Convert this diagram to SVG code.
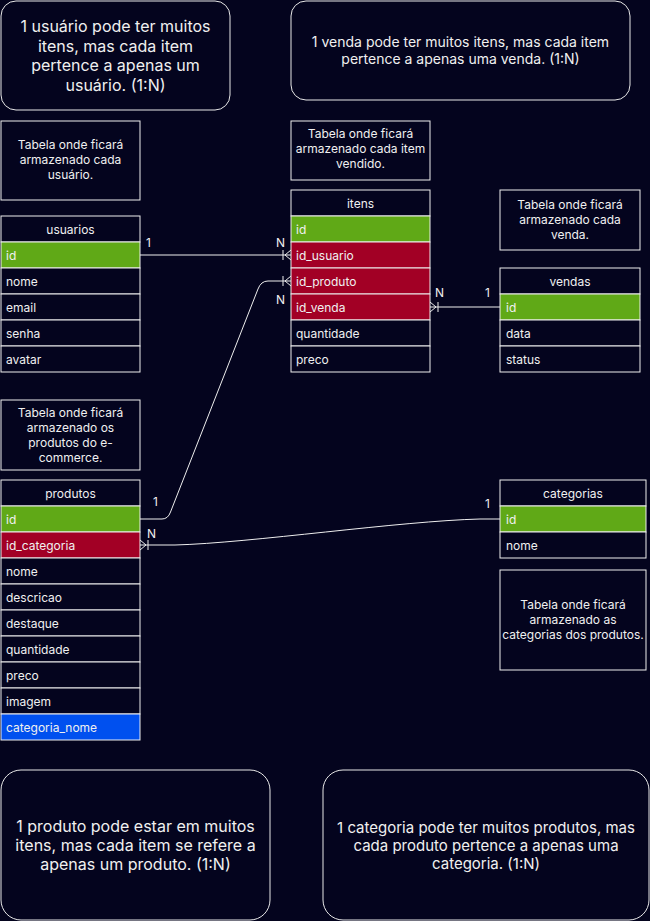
<svg xmlns="http://www.w3.org/2000/svg" width="650" height="921" viewBox="0 0 650 921">
<style>
text{font-family:Inter,"Noto Sans","Liberation Sans",sans-serif;fill:#f0f0f0}
.box{fill:#04041e;stroke:#eeeeee;stroke-width:1}
.note{fill:#04041e;stroke:#e8e8e8;stroke-width:1}
.g{fill:#60a917;stroke:#eeeeee}
.r{fill:#a20025;stroke:#eeeeee}
.b{fill:#0050ef;stroke:#eeeeee}
.t12{font-size:12px}
.c{text-anchor:middle}
.con{fill:none;stroke:#eeeeee;stroke-width:1}
.lbl{font-size:12px}
</style>
<rect width="650" height="921" fill="#04041e"/>

<g id="note-usuarios">
<rect class="note" x="1" y="1" width="229" height="109" rx="15"/>
<text class="c" x="115.5" y="32" font-size="16">1 usuário pode ter muitos</text>
<text class="c" x="115.5" y="52" font-size="16">itens, mas cada item</text>
<text class="c" x="115.5" y="71" font-size="16">pertence a apenas um</text>
<text class="c" x="115.5" y="91" font-size="16">usuário. (1:N)</text>
</g>

<g id="note-vendas">
<rect class="note" x="291" y="1" width="339" height="99" rx="15"/>
<text class="c" x="460.5" y="47" font-size="14">1 venda pode ter muitos itens, mas cada item</text>
<text class="c" x="460.5" y="64" font-size="14">pertence a apenas uma venda. (1:N)</text>
</g>

<g id="desc-usuarios">
<rect class="box" x="1" y="121" width="139" height="79"/>
<text class="c t12" x="70.5" y="149">Tabela onde ficará</text>
<text class="c t12" x="70.5" y="164">armazenado cada</text>
<text class="c t12" x="70.5" y="179">usuário.</text>
</g>

<g id="usuarios">
<rect class="box" x="1" y="216" width="139" height="26"/>
<text class="c t12" x="70.5" y="234">usuarios</text>
<rect class="g" x="1" y="242" width="139" height="26"/>
<text class="t12" x="6" y="260">id</text>
<rect class="box" x="1" y="268" width="139" height="26"/>
<text class="t12" x="6" y="286">nome</text>
<rect class="box" x="1" y="294" width="139" height="26"/>
<text class="t12" x="6" y="312">email</text>
<rect class="box" x="1" y="320" width="139" height="26"/>
<text class="t12" x="6" y="338">senha</text>
<rect class="box" x="1" y="346" width="139" height="26"/>
<text class="t12" x="6" y="364">avatar</text>
</g>

<g id="desc-itens">
<rect class="box" x="291" y="121" width="139" height="59"/>
<text class="c t12" x="360.5" y="138">Tabela onde ficará</text>
<text class="c t12" x="360.5" y="153">armazenado cada item</text>
<text class="c t12" x="360.5" y="168">vendido.</text>
</g>

<g id="itens">
<rect class="box" x="291" y="190" width="139" height="26"/>
<text class="c t12" x="360.5" y="208">itens</text>
<rect class="g" x="291" y="216" width="139" height="26"/>
<text class="t12" x="296" y="234">id</text>
<rect class="r" x="291" y="242" width="139" height="26"/>
<text class="t12" x="296" y="260">id_usuario</text>
<rect class="r" x="291" y="268" width="139" height="26"/>
<text class="t12" x="296" y="286">id_produto</text>
<rect class="r" x="291" y="294" width="139" height="26"/>
<text class="t12" x="296" y="312">id_venda</text>
<rect class="box" x="291" y="320" width="139" height="26"/>
<text class="t12" x="296" y="338">quantidade</text>
<rect class="box" x="291" y="346" width="139" height="26"/>
<text class="t12" x="296" y="364">preco</text>
</g>

<g id="desc-vendas">
<rect class="box" x="500" y="190" width="140" height="60"/>
<text class="c t12" x="570" y="209">Tabela onde ficará</text>
<text class="c t12" x="570" y="224">armazenado cada</text>
<text class="c t12" x="570" y="239">venda.</text>
</g>

<g id="vendas">
<rect class="box" x="500" y="268" width="140" height="26"/>
<text class="c t12" x="570" y="286">vendas</text>
<rect class="g" x="500" y="294" width="140" height="26"/>
<text class="t12" x="506" y="312">id</text>
<rect class="box" x="500" y="320" width="140" height="26"/>
<text class="t12" x="506" y="338">data</text>
<rect class="box" x="500" y="346" width="140" height="26"/>
<text class="t12" x="506" y="364">status</text>
</g>

<g id="desc-produtos">
<rect class="box" x="1" y="400" width="139" height="70"/>
<text class="c t12" x="70.5" y="417">Tabela onde ficará</text>
<text class="c t12" x="70.5" y="432">armazenado os</text>
<text class="c t12" x="70.5" y="447">produtos do e-</text>
<text class="c t12" x="70.5" y="462">commerce.</text>
</g>

<g id="produtos">
<rect class="box" x="1" y="480" width="139" height="26"/>
<text class="c t12" x="70.5" y="498">produtos</text>
<rect class="g" x="1" y="506" width="139" height="26"/>
<text class="t12" x="6" y="524">id</text>
<rect class="r" x="1" y="532" width="139" height="26"/>
<text class="t12" x="6" y="550">id_categoria</text>
<rect class="box" x="1" y="558" width="139" height="26"/>
<text class="t12" x="6" y="576">nome</text>
<rect class="box" x="1" y="584" width="139" height="26"/>
<text class="t12" x="6" y="602">descricao</text>
<rect class="box" x="1" y="610" width="139" height="26"/>
<text class="t12" x="6" y="628">destaque</text>
<rect class="box" x="1" y="636" width="139" height="26"/>
<text class="t12" x="6" y="654">quantidade</text>
<rect class="box" x="1" y="662" width="139" height="26"/>
<text class="t12" x="6" y="680">preco</text>
<rect class="box" x="1" y="688" width="139" height="26"/>
<text class="t12" x="6" y="706">imagem</text>
<rect class="b" x="1" y="714" width="139" height="26"/>
<text class="t12" x="6" y="732">categoria_nome</text>
</g>

<g id="categorias">
<rect class="box" x="500" y="480" width="146" height="26"/>
<text class="c t12" x="573" y="498">categorias</text>
<rect class="g" x="500" y="506" width="146" height="26"/>
<text class="t12" x="506" y="524">id</text>
<rect class="box" x="500" y="532" width="146" height="26"/>
<text class="t12" x="506" y="550">nome</text>
</g>

<g id="desc-categorias">
<rect class="box" x="500" y="570" width="146" height="100"/>
<text class="c t12" x="573" y="609">Tabela onde ficará</text>
<text class="c t12" x="573" y="624">armazenado as</text>
<text class="c t12" x="573" y="639">categorias dos produtos.</text>
</g>

<g id="note-produtos">
<rect class="note" x="1" y="770" width="269" height="150" rx="20"/>
<text class="c" x="135.5" y="832" font-size="16">1 produto pode estar em muitos</text>
<text class="c" x="135.5" y="851" font-size="16">itens, mas cada item se refere a</text>
<text class="c" x="135.5" y="870" font-size="16">apenas um produto. (1:N)</text>
</g>

<g id="note-categorias">
<rect class="note" x="323" y="770" width="326" height="150" rx="20"/>
<text class="c" x="486" y="833" font-size="15">1 categoria pode ter muitos produtos, mas</text>
<text class="c" x="486" y="851" font-size="15">cada produto pertence a apenas uma</text>
<text class="c" x="486" y="869" font-size="15">categoria. (1:N)</text>
</g>

<g id="connectors">
<path class="con" d="M140 255 H291"/>
<path class="con" d="M283 250 V260 M285 255 L291 250 M285 255 L291 260"/>
<text class="lbl" x="146" y="247">1</text>
<text class="lbl" x="276" y="247">N</text>

<path class="con" d="M140 519 H162 Q168 519 170.5 512 L258 289 Q261 281 268 281 H291"/>
<path class="con" d="M283 276 V286 M285 281 L291 276 M285 281 L291 286"/>
<text class="lbl" x="153" y="506">1</text>
<text class="lbl" x="276" y="304">N</text>

<path class="con" d="M500 307 H430"/>
<path class="con" d="M438 302 V312 M436 307 L430 302 M436 307 L430 312"/>
<text class="lbl" x="435" y="297">N</text>
<text class="lbl" x="485" y="297">1</text>

<path class="con" d="M500 519 H480 C 400 521, 250 543, 175 545 H140"/>
<path class="con" d="M148 540 V550 M146 545 L140 540 M146 545 L140 550"/>
<text class="lbl" x="485" y="508">1</text>
<text class="lbl" x="147" y="538">N</text>
</g>
</svg>
